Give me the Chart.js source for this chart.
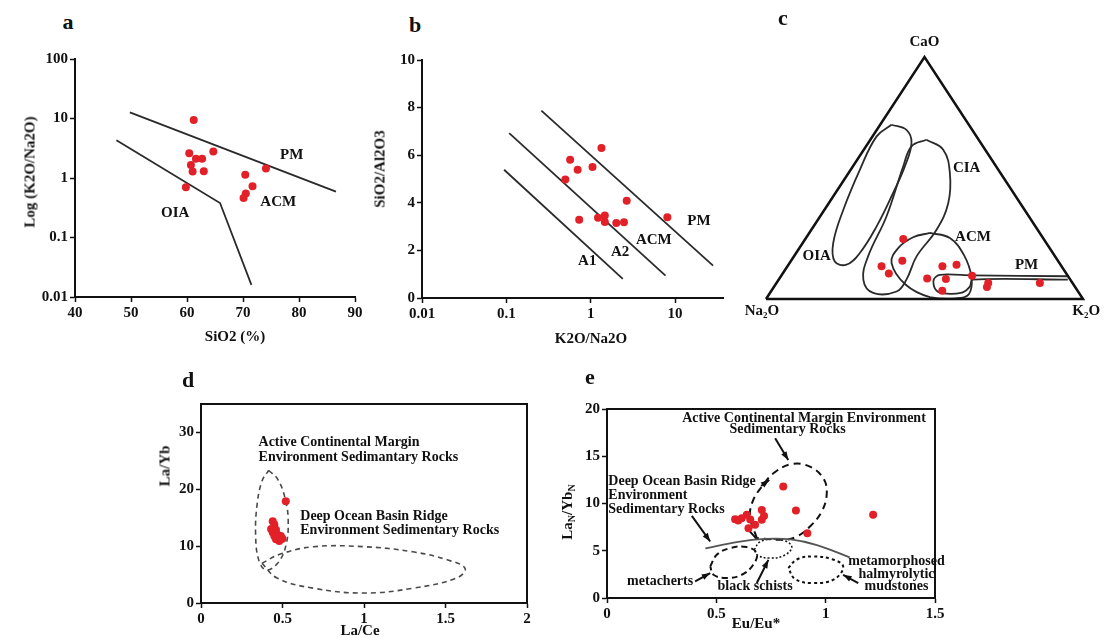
<!DOCTYPE html>
<html>
<head>
<meta charset="utf-8">
<script src="https://cdn.jsdelivr.net/npm/chart.js@4.4.1/dist/chart.umd.min.js"></script>
<style>
  body {
    margin: 0;
    width: 1113px;
    height: 638px;
    position: relative;
    overflow: hidden;
    background: #fff;
    color: #111;
    font-family: "Liberation Serif", "Times New Roman", serif;
    font-weight: bold;
  }
  canvas { position: absolute; }
  .lbl {
    position: absolute;
    transform: translate(-50%, -50%);
    white-space: nowrap;
    font-size: 15px;
    line-height: 1;
  }
  .lbl.v { transform: translate(-50%, -50%) rotate(-90deg); }
  .lbl.panel { font-size: 22px; }
  .lbl sub { font-size: 10px; vertical-align: -3px; }
</style>
</head>
<body>
<canvas id="chartA" width="370" height="290" style="left:0;top:40px"></canvas>
<canvas id="chartB" width="370" height="290" style="left:370px;top:40px"></canvas>
<canvas id="chartC" width="373" height="330" style="left:740px;top:0"></canvas>
<canvas id="chartD" width="400" height="298" style="left:150px;top:340px"></canvas>
<canvas id="chartE" width="420" height="298" style="left:540px;top:340px"></canvas>

<div class="lbl panel" style="left:68px;top:22px">a</div>
<div class="lbl panel" style="left:415px;top:25px">b</div>
<div class="lbl panel" style="left:783px;top:18px">c</div>
<div class="lbl panel" style="left:188px;top:380px">d</div>
<div class="lbl panel" style="left:590px;top:377px">e</div>

<div class="lbl" style="left:235px;top:336px">SiO2 (%)</div>
<div class="lbl v" style="left:30px;top:172px">Log (K2O/Na2O)</div>
<div class="lbl" style="left:591px;top:338px">K2O/Na2O</div>
<div class="lbl v" style="left:380px;top:169px">SiO2/Al2O3</div>
<div class="lbl" style="left:360px;top:630px">La/Ce</div>
<div class="lbl v" style="left:165px;top:466px">La/Yb</div>
<div class="lbl" style="left:756px;top:623px">Eu/Eu*</div>
<div class="lbl v" style="left:568px;top:512px">La<sub>N</sub>/Yb<sub>N</sub></div>

<script>
// (a) SiO2 vs K2O/Na2O
const aSiO2 = [61.2, 60.4, 61.6, 62.7, 64.7, 60.7, 61.0, 63.0, 59.8, 70.4, 71.7, 70.5, 70.1, 74.1];
const aK2ONa2O = [9.4, 2.6, 2.1, 2.1, 2.8, 1.66, 1.28, 1.3, 0.70, 1.13, 0.73, 0.55, 0.46, 1.44];
const aTicksX = [40, 50, 60, 70, 80, 90];
const aTicksY = [0.01, 0.1, 1, 10, 100];
const aUpperLine = [[49.8, 12.7], [86.6, 0.59]];
const aLowerLine = [[47.4, 4.3], [65.9, 0.38], [71.5, 0.016]];

// (b) K2O/Na2O vs SiO2/Al2O3
const bK2ONa2O = [1.34, 0.57, 0.70, 1.05, 0.50, 2.67, 0.73, 1.22, 1.47, 1.47, 2.01, 2.48, 8.1];
const bSiO2Al2O3 = [6.3, 5.81, 5.39, 5.5, 4.98, 4.09, 3.29, 3.37, 3.47, 3.19, 3.15, 3.18, 3.39];
const bTicksX = [0.01, 0.1, 1, 10];
const bTicksY = [0, 2, 4, 6, 8, 10];
const bPmLine = [[0.26, 7.87], [28.2, 1.36]];
const bAcmLine = [[0.108, 6.93], [7.7, 0.94]];
const bA1Line = [[0.094, 5.39], [2.4, 0.80]];

// (c) CaO - Na2O - K2O ternary, in percent
const cCaO = [24.8, 15.8, 13.5, 10.5, 13.5, 14.2, 8.5, 8.3, 9.6, 3.4, 6.6, 5.0, 6.6];
const cNa2O = [44.3, 49.1, 56.8, 56.0, 37.6, 32.8, 44.9, 39.1, 30.2, 42.7, 26.6, 27.8, 10.3];
const cK2O = [30.9, 35.1, 29.7, 33.5, 48.9, 53.0, 46.6, 52.6, 60.2, 53.9, 66.8, 67.2, 83.1];
// field outlines in diagram coordinates (Na2O corner at 0,0; K2O at 1,0; CaO at 0.5,1)
const cTriangle = [[0, 0], [1, 0], [0.5, 1]];
const cOiaField = [[0.396, 0.720], [0.443, 0.699], [0.459, 0.645], [0.438, 0.548], [0.401, 0.438],
  [0.349, 0.300], [0.296, 0.190], [0.254, 0.142], [0.217, 0.155], [0.212, 0.231], [0.244, 0.369],
  [0.296, 0.534], [0.349, 0.672]];
const cCiaField = [[0.506, 0.658], [0.559, 0.617], [0.580, 0.521], [0.575, 0.397], [0.538, 0.286],
  [0.475, 0.176], [0.443, 0.080], [0.412, 0.031], [0.338, 0.025], [0.307, 0.080], [0.322, 0.176],
  [0.380, 0.341], [0.433, 0.548], [0.459, 0.631]];
const cAcmField = [[0.517, 0.273], [0.580, 0.252], [0.625, 0.180], [0.648, 0.090], [0.640, 0.020],
  [0.600, 0.003], [0.517, 0.008], [0.440, 0.060], [0.396, 0.149], [0.417, 0.210], [0.464, 0.255]];
const cPmField = [[0.952, 0.094], [0.649, 0.098], [0.548, 0.100], [0.529, 0.080], [0.533, 0.043],
  [0.555, 0.024], [0.618, 0.026], [0.643, 0.051], [0.652, 0.080], [0.952, 0.080]];

// (d) La/Ce vs La/Yb
const dLaCe = [0.52, 0.44, 0.45, 0.43, 0.44, 0.46, 0.45, 0.47, 0.49, 0.50, 0.48, 0.46];
const dLaYb = [17.9, 14.4, 13.8, 13.0, 12.4, 12.9, 11.8, 12.0, 11.8, 11.3, 10.9, 11.2];
const dTicksX = [0, 0.5, 1, 1.5, 2];
const dTicksY = [0, 10, 20, 30];
const dAcmField = [[0.415, 23.3], [0.47, 21.8], [0.515, 18.5], [0.535, 14.5], [0.52, 10], [0.47, 7],
  [0.40, 5.8], [0.355, 7.5], [0.335, 12], [0.345, 17.5], [0.375, 21.5]];
const dOceanField = [[0.374, 7.0], [0.487, 8.6], [0.69, 9.9], [1.0, 9.9], [1.30, 9.0], [1.51, 7.6],
  [1.62, 6.1], [1.57, 4.4], [1.30, 2.6], [1.0, 1.75], [0.69, 2.6], [0.466, 4.4]];

// (e) Eu/Eu* vs (La/Yb)N
const eEuEu = [0.806, 0.864, 1.217, 0.916, 0.586, 0.616, 0.639, 0.708, 0.718, 0.708, 0.677, 0.647, 0.600, 0.655];
const eLaYbN = [11.8, 9.25, 8.8, 6.86, 8.34, 8.45, 8.8, 9.32, 8.69, 8.27, 7.74, 7.39, 8.2, 8.3];
const eTicksX = [0, 0.5, 1, 1.5];
const eTicksY = [0, 5, 10, 15, 20];
const eDivide = [[0.45, 5.25], [0.6, 5.95], [0.72, 6.25], [0.84, 6.2], [0.96, 5.6], [1.11, 4.3]];
const eAcmField = [[0.685, 6.34], [0.654, 8.62], [0.669, 10.38], [0.708, 11.78], [0.761, 13.2],
  [0.845, 14.18], [0.928, 13.9], [0.989, 12.67], [1.005, 11.09], [0.982, 9.15], [0.928, 7.56],
  [0.868, 6.5], [0.807, 6.16]];
const eMetacherts = [[0.472, 3.34], [0.502, 4.57], [0.563, 5.28], [0.639, 5.39], [0.685, 4.75],
  [0.669, 3.52], [0.616, 2.46], [0.548, 2.11], [0.487, 2.46]];
const eSchists = [[0.673, 5.1], [0.70, 5.95], [0.761, 6.23], [0.82, 6.0], [0.845, 5.35], [0.81, 4.5],
  [0.746, 4.22], [0.69, 4.5]];
const eMudstones = [[0.829, 3.17], [0.87, 4.1], [0.943, 4.4], [1.03, 4.1], [1.08, 3.34], [1.04, 2.0],
  [0.943, 1.58], [0.86, 2.0]];
const eArrows = [
  [[0.769, 16.9], [0.829, 14.6]],
  [[0.705, 11.85], [0.742, 12.5]],
  [[0.388, 8.69], [0.472, 5.98]],
  [[0.403, 1.75], [0.472, 2.64]],
  [[0.685, 1.58], [0.738, 4.04]],
  [[1.149, 1.58], [1.08, 2.46]],
];
const eLink = [[0.647, 7.21], [0.685, 6.23]];

const RED = "rgb(226, 32, 40)";
const INK = "#111";
const LINE = "#2a2a2a";
const SERIF = '"Liberation Serif", "Times New Roman", serif';

Chart.defaults.font.family = SERIF;
Chart.defaults.font.weight = "bold";
Chart.defaults.font.size = 15;
Chart.defaults.color = INK;
Chart.defaults.animation = false;
Chart.defaults.plugins.legend.display = false;
Chart.defaults.plugins.tooltip.enabled = false;

const xy = (xs, ys) => xs.map((x, i) => ({ x, y: ys[i] }));
const pairs = (list) => list.map(([x, y]) => ({ x, y }));
const loop = (list) => pairs([...list, list[0]]);

const dots = (data) => ({ data, pointRadius: 4, backgroundColor: RED, borderWidth: 0, clip: false });
const path = (data, extra = {}) => ({
  data,
  showLine: true,
  pointRadius: 0,
  borderColor: LINE,
  borderWidth: 1.8,
  clip: false,
  ...extra,
});

// text placed at data coordinates
const notes = {
  id: "notes",
  afterDraw(chart, args, opts) {
    const { ctx, scales } = chart;
    ctx.save();
    ctx.fillStyle = INK;
    ctx.textBaseline = "middle";
    for (const n of opts.items || []) {
      ctx.font = `bold ${n.size || 14}px ${SERIF}`;
      ctx.textAlign = n.align || "center";
      ctx.fillText(n.text, scales.x.getPixelForValue(n.x), scales.y.getPixelForValue(n.y));
    }
    ctx.restore();
  },
};

// filled heads on the last segment of datasets flagged with `arrow`
const arrowHeads = {
  id: "arrowHeads",
  afterDatasetsDraw(chart) {
    const { ctx } = chart;
    chart.data.datasets.forEach((ds, i) => {
      if (!ds.arrow) return;
      const pts = chart.getDatasetMeta(i).data;
      const a = pts[pts.length - 2];
      const b = pts[pts.length - 1];
      const ang = Math.atan2(b.y - a.y, b.x - a.x);
      ctx.save();
      ctx.fillStyle = ds.borderColor;
      ctx.beginPath();
      ctx.moveTo(b.x, b.y);
      ctx.lineTo(b.x - 9 * Math.cos(ang - 0.35), b.y - 9 * Math.sin(ang - 0.35));
      ctx.lineTo(b.x - 9 * Math.cos(ang + 0.35), b.y - 9 * Math.sin(ang + 0.35));
      ctx.closePath();
      ctx.fill();
      ctx.restore();
    });
  },
};

// closed box around the plot area
const frame = {
  id: "frame",
  afterDatasetsDraw(chart) {
    const { ctx, chartArea: c } = chart;
    ctx.save();
    ctx.strokeStyle = INK;
    ctx.lineWidth = 2;
    ctx.strokeRect(c.left, c.top, c.right - c.left, c.bottom - c.top);
    ctx.restore();
  },
};

function axis(type, min, max, ticks, size) {
  return {
    type,
    min,
    max,
    grid: {
      display: true,
      drawOnChartArea: false,
      drawTicks: true,
      tickLength: 5,
      tickColor: INK,
      tickWidth: 1.5,
    },
    border: { display: true, color: INK, width: 2 },
    ticks: { padding: 2, autoSkip: false, maxRotation: 0, callback: (v) => String(v) },
    afterBuildTicks: (s) => {
      s.ticks = ticks.map((value) => ({ value }));
    },
    afterFit: (s) => {
      if (s.isHorizontal()) s.height = size;
      else s.width = size;
      s.paddingLeft = s.paddingRight = s.paddingTop = s.paddingBottom = 0;
    },
  };
}

function scatter(id, datasets, scales, padding, items, extraPlugins = []) {
  return new Chart(document.getElementById(id), {
    type: "scatter",
    data: { datasets },
    options: {
      responsive: false,
      devicePixelRatio: 1,
      layout: { padding },
      scales,
      plugins: { notes: { items } },
    },
    plugins: [notes, arrowHeads, ...extraPlugins],
  });
}

scatter(
  "chartA",
  [dots(xy(aSiO2, aK2ONa2O)), path(pairs(aUpperLine)), path(pairs(aLowerLine))],
  { x: axis("linear", 40, 90, aTicksX, 33), y: axis("logarithmic", 0.01, 100, aTicksY, 75) },
  { left: 0, top: 19, right: 15, bottom: 0 },
  [
    { text: "PM", x: 78.7, y: 2.44, size: 15 },
    { text: "ACM", x: 76.3, y: 0.40, size: 15 },
    { text: "OIA", x: 57.9, y: 0.255, size: 15 },
  ]
);

scatter(
  "chartB",
  [dots(xy(bK2ONa2O, bSiO2Al2O3)), path(pairs(bPmLine)), path(pairs(bAcmLine)), path(pairs(bA1Line))],
  { x: axis("logarithmic", 0.01, 37, bTicksX, 32), y: axis("linear", 0, 10, bTicksY, 52) },
  { left: 0, top: 20, right: 17, bottom: 0 },
  [
    { text: "PM", x: 19.2, y: 3.22, size: 15 },
    { text: "ACM", x: 5.6, y: 2.42, size: 15 },
    { text: "A2", x: 2.23, y: 1.92, size: 15 },
    { text: "A1", x: 0.91, y: 1.54, size: 15 },
  ]
);

const cPoints = cCaO.map((ca, i) => {
  const sum = ca + cNa2O[i] + cK2O[i];
  return { x: (cK2O[i] + ca / 2) / sum, y: ca / sum };
});

scatter(
  "chartC",
  [
    dots(cPoints),
    path(loop(cTriangle), { borderColor: INK, borderWidth: 2.5 }),
    path(loop(cOiaField), { tension: 0.4 }),
    path(loop(cCiaField), { tension: 0.4 }),
    path(loop(cAcmField), { tension: 0.4 }),
    path(pairs(cPmField), { tension: 0.3 }),
  ],
  {
    x: { type: "linear", min: 0, max: 1, display: false },
    y: { type: "linear", min: 0, max: 1, display: false },
  },
  { left: 26, top: 57, right: 30, bottom: 31 },
  [
    { text: "CaO", x: 0.5, y: 1.06, size: 15 },
    { text: "Na\u2082O", x: -0.013, y: -0.052, size: 15 },
    { text: "K\u2082O", x: 1.01, y: -0.052, size: 15 },
    { text: "OIA", x: 0.16, y: 0.176, size: 15 },
    { text: "CIA", x: 0.633, y: 0.541, size: 15 },
    { text: "ACM", x: 0.653, y: 0.256, size: 15 },
    { text: "PM", x: 0.822, y: 0.138, size: 15 },
  ]
);

const dDash = { borderColor: "#4a4a4a", borderWidth: 1.6, borderDash: [5, 4], tension: 0.4 };
scatter(
  "chartD",
  [dots(xy(dLaCe, dLaYb)), path(loop(dAcmField), dDash), path(loop(dOceanField), dDash)],
  { x: axis("linear", 0, 2, dTicksX, 35), y: axis("linear", 0, 35, dTicksY, 51) },
  { left: 0, top: 64, right: 23, bottom: 0 },
  [
    { text: "Active Continental Margin", x: 0.353, y: 28.25, align: "left" },
    { text: "Environment Sedimantary Rocks", x: 0.353, y: 25.6, align: "left" },
    { text: "Deep Ocean Basin Ridge", x: 0.609, y: 15.3, align: "left" },
    { text: "Environment Sedimentary Rocks", x: 0.609, y: 12.8, align: "left" },
  ],
  [frame]
);

const arrowStyle = { borderColor: INK, borderWidth: 2, arrow: true };
scatter(
  "chartE",
  [
    dots(xy(eEuEu, eLaYbN)),
    path(pairs(eDivide), { borderColor: "#555", tension: 0.4 }),
    path(loop(eAcmField), { borderColor: INK, borderWidth: 2, borderDash: [7, 5], tension: 0.4 }),
    path(loop(eMetacherts), { borderColor: INK, borderWidth: 2, borderDash: [6, 4], tension: 0.4 }),
    path(loop(eSchists), { borderColor: INK, borderWidth: 1.5, borderDash: [2, 2], tension: 0.4 }),
    path(loop(eMudstones), { borderColor: INK, borderWidth: 2, borderDash: [3, 3], tension: 0.4 }),
    path(pairs(eLink), { borderColor: INK, borderWidth: 2 }),
    ...eArrows.map((a) => path(pairs(a), arrowStyle)),
  ],
  { x: axis("linear", 0, 1.5, eTicksX, 40), y: axis("linear", 0, 20, eTicksY, 67) },
  { left: 0, top: 69, right: 25, bottom: 0 },
  [
    { text: "Active Continental Margin Environment", x: 0.901, y: 19.0 },
    { text: "Sedimentary Rocks", x: 0.826, y: 17.8 },
    { text: "Deep Ocean Basin Ridge", x: 0.006, y: 12.3, align: "left" },
    { text: "Environment", x: 0.006, y: 10.9, align: "left" },
    { text: "Sedimentary Rocks", x: 0.006, y: 9.4, align: "left" },
    { text: "metacherts", x: 0.243, y: 1.75 },
    { text: "black schists", x: 0.677, y: 1.22 },
    { text: "metamorphosed", x: 1.324, y: 3.87 },
    { text: "halmyrolytic", x: 1.324, y: 2.46 },
    { text: "mudstones", x: 1.324, y: 1.22 },
  ],
  [frame]
);
</script>
</body>
</html>
